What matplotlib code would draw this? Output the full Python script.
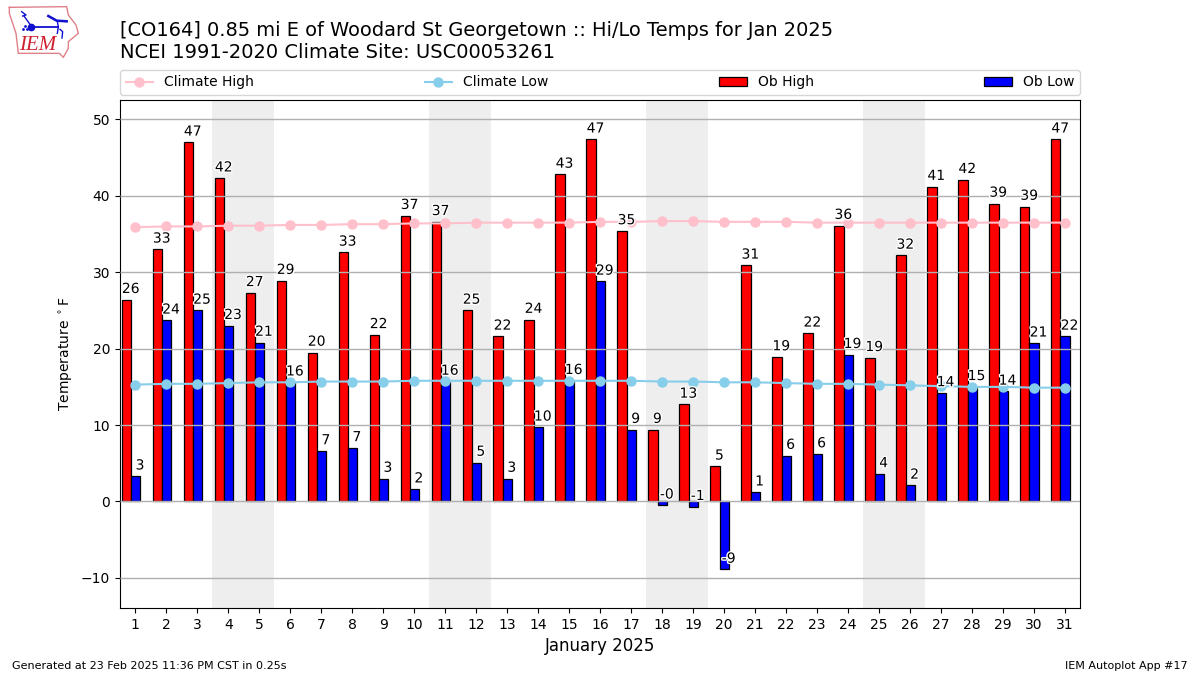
import matplotlib
matplotlib.use("Agg")
import numpy as np
import matplotlib.pyplot as plt
import matplotlib.patheffects as pe

days = list(range(1, 32))
ob_high = [26.4, 33.0, 47.0, 42.3, 27.3, 28.9, 19.5, 32.6, 21.8, 37.4, 36.6,
           25.0, 21.6, 23.8, 42.8, 47.4, 35.4, 9.4, 12.7, 4.6, 30.9, 18.9,
           22.0, 36.1, 18.8, 32.2, 41.2, 42.1, 39.0, 38.6, 47.4]
ob_low = [3.3, 23.7, 25.0, 23.0, 20.8, 15.6, 6.6, 7.0, 3.0, 1.6, 15.7, 5.1,
          3.0, 9.7, 15.8, 28.8, 9.4, -0.5, -0.7, -8.9, 1.2, 6.0, 6.2, 19.2,
          3.6, 2.1, 14.2, 15.0, 14.4, 20.7, 21.6]
climate_high = [35.9, 36.0, 36.0, 36.1, 36.1, 36.2, 36.2, 36.3, 36.3, 36.4,
                36.4, 36.5, 36.5, 36.5, 36.5, 36.6, 36.6, 36.7, 36.7, 36.6,
                36.6, 36.6, 36.5, 36.5, 36.5, 36.5, 36.5, 36.5, 36.5, 36.5,
                36.5]
climate_low = [15.3, 15.4, 15.4, 15.5, 15.6, 15.6, 15.7, 15.7, 15.7, 15.8,
               15.8, 15.8, 15.8, 15.8, 15.8, 15.8, 15.8, 15.7, 15.7, 15.6,
               15.6, 15.5, 15.4, 15.4, 15.3, 15.2, 15.1, 15.0, 15.0, 14.9,
               14.9]
weekends = [4, 11, 18, 25]

W, H = 1200, 675
fig = plt.figure(figsize=(12, 6.75), dpi=100)
ax = fig.add_axes([120 / W, 1 - 608 / H, 960 / W, 508 / H])

x = np.array(days)

# fines de semana
for d in weekends:
    ax.axvspan(d - 0.51, d + 1.49, color="#eeeeee", lw=0, zorder=0)

ax.bar(x - 0.29, ob_high, width=0.3, color="red", edgecolor="k", lw=0.9,
       label="Ob High", zorder=2)
ax.bar(x + 0.01, ob_low, width=0.3, color="blue", edgecolor="k", lw=0.9,
       label="Ob Low", zorder=2)
ax.yaxis.grid(True, color="#b0b0b0", lw=1, zorder=2.5)
ax.set_axisbelow(False)

ax.plot(x, climate_high, color="pink", marker="o", ms=6.5, lw=1.5,
        label="Climate High", zorder=3)
ax.plot(x, climate_low, color="skyblue", marker="o", ms=6.5, lw=1.5,
        label="Climate Low", zorder=3)

halo = [pe.withStroke(linewidth=2, foreground="white")]
for d, hi, lo in zip(x, ob_high, ob_low):
    ax.text(d - 0.15, hi + 0.5, f"{hi:.0f}", ha="center", va="bottom",
            fontsize=10, path_effects=halo, zorder=4)
    ax.text(d + 0.15, lo + 0.5, f"{lo:.0f}", ha="center", va="bottom",
            fontsize=10, path_effects=halo, zorder=4)

ax.set_xlim(0.505, 31.49)
ax.set_ylim(-13.94, 52.55)
ax.set_xticks(days)
ax.tick_params(labelsize=10)
ax.set_xlabel("January 2025", fontsize=12)
ax.set_ylabel(r"Temperature $^\circ$F", fontsize=10)

handles, labels = ax.get_legend_handles_labels()
order = [labels.index(n) for n in ["Climate High", "Climate Low", "Ob High", "Ob Low"]]
ax.legend([handles[i] for i in order], [labels[i] for i in order],
          loc="lower left", bbox_to_anchor=(0, 1.01, 1, 0.05), mode="expand",
          ncol=4, fontsize=10, borderaxespad=0)

fig.text(120 / W, 1 - 30 / H, "[CO164] 0.85 mi E of Woodard St Georgetown :: Hi/Lo Temps for Jan 2025",
         fontsize=13.98, va="center")
fig.text(120 / W, 1 - 52 / H, "NCEI 1991-2020 Climate Site: USC00053261",
         fontsize=14, va="center")
fig.text(12 / W, 1 - 666 / H, "Generated at 23 Feb 2025 11:36 PM CST in 0.25s",
         fontsize=8, va="center")
fig.text(1188 / W, 1 - 666 / H, "IEM Autoplot App #17", fontsize=8, va="center",
         ha="right")

# logo IEM
logo = fig.add_axes([0, 1 - 60 / H, 80 / W, 60 / H])
logo.set_xlim(0, 240)
logo.set_ylim(180, 0)
logo.axis("off")
logo.plot([28, 200, 205, 228, 235, 205, 205, 190, 178, 55, 48, 28, 28],
          [22, 20, 45, 75, 100, 125, 145, 172, 160, 160, 100, 40, 22],
          color="#e08088", lw=1)
logo.plot([95, 175], [80, 80], color="#1010d0", lw=1.3)
logo.plot([72, 95], [48, 80], color="#1010d0", lw=1)
logo.plot([65, 78, 68], [35, 45, 48], color="#1010d0", lw=1)
logo.plot([94], [80], "o", color="#1010d0", ms=4.5)
logo.plot([145, 170, 200], [48, 62, 64], color="#1010d0", lw=1.8)
logo.plot([172, 175, 172], [64, 80, 100], color="#1010d0", lw=1)
logo.plot([180, 188, 186], [88, 95, 114], color="#1010d0", lw=1)
logo.plot([70, 76, 80], [86, 78, 86], ".", color="#1010d0", ms=2)
logo.text(112, 137, "IEM", color="#d02030", family="Liberation Serif",
          style="italic", fontsize=15, ha="center", va="center")

fig.savefig("out.png", dpi=100)
